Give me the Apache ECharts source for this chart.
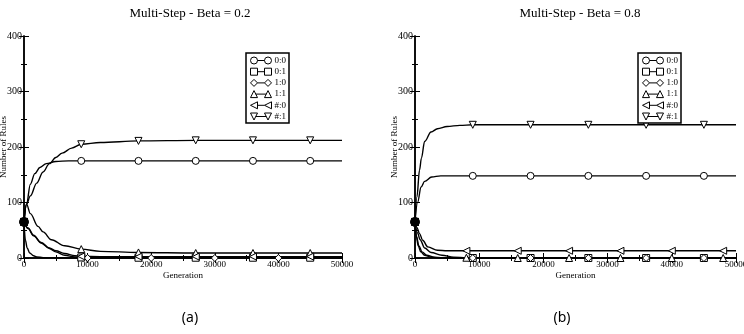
<!DOCTYPE html>
<html><head><meta charset="utf-8">
<script src="https://cdn.jsdelivr.net/npm/echarts@6/dist/echarts.min.js"></script>
<style>html,body{margin:0;padding:0;background:#fff}#c{width:744px;height:334px}</style>
</head><body><div id="c"></div>
<script>
// ---------- data ----------
const seriesNames = ['0:0', '0:1', '1:0', '1:1', '#:0', '#:1'];
const xTicks = [0, 10000, 20000, 30000, 40000, 50000];
const yTicks = [0, 100, 200, 300, 400];

// Beta = 0.2  ([generation, number of rules])
const a_00 = [[0,65],[400,97],[1000,133],[1700,152],[2500,163],[3500,170],[5000,174],[7000,175],[9000,175],[18000,175],[27000,175],[36000,175],[45000,175],[50000,175]];
const a_01 = [[0,65],[650,53],[1500,40],[2700,27],[4000,17],[5000,11],[6400,5],[8000,2],[9000,1],[12000,0.5],[18000,0.5],[27000,0.5],[36000,0.5],[45000,0.5],[50000,0.5]];
const a_10 = [[0,65],[220,32],[500,18],[900,9],[1500,4],[2000,2],[3000,0.5],[5000,0],[10000,0],[20000,0],[30000,0],[40000,0],[50000,0]];
const a_11 = [[0,65],[400,97],[1000,80],[2200,57],[3000,47],[4300,33],[6400,22],[9000,16],[12000,12],[18000,10],[27000,9],[36000,9],[45000,9],[50000,9]];
const a_h0 = [[0,65],[650,54],[1500,41],[2700,28],[4000,18],[5000,13],[6400,8],[8000,4],[9000,3],[12000,2.5],[18000,2.5],[27000,2.5],[36000,2.5],[45000,2.5],[50000,2.5]];
const a_h1 = [[0,65],[400,97],[1000,112],[2000,135],[3000,155],[4000,170],[5000,181],[6000,189],[7500,198],[9000,205],[12000,208],[18000,211],[27000,212],[36000,212],[45000,212],[50000,212]];

// Beta = 0.8
const b_00 = [[0,65],[400,100],[950,128],[1500,138],[2600,146],[4000,148],[9000,148],[18000,148],[27000,148],[36000,148],[45000,148],[50000,148]];
const b_01 = [[0,65],[200,40],[500,22],[900,11],[1500,5],[2500,1.5],[4000,0],[9000,0],[18000,0],[27000,0],[36000,0],[45000,0],[50000,0]];
const b_10 = [[0,65],[250,38],[600,22],[1100,11],[1800,5],[3000,1.5],[5000,0],[9000,0],[18000,0],[27000,0],[36000,0],[45000,0],[50000,0]];
const b_11 = [[0,65],[400,45],[800,33],[1500,18],[2500,10],[4200,5],[6000,1.5],[8000,0.5],[16000,0],[24000,0],[32000,0],[40000,0],[48000,0],[50000,0]];
const b_h0 = [[0,65],[300,55],[700,44],[1200,32],[2000,20],[3500,14],[5000,13],[8000,13],[16000,13],[24000,13],[32000,13],[40000,13],[48000,13],[50000,13]];
const b_h1 = [[0,65],[300,110],[700,158],[1000,180],[1500,210],[2500,227],[3500,233],[5000,237],[7000,239],[9000,240],[18000,240],[27000,240],[36000,240],[45000,240],[50000,240]];

// generations where a symbol is drawn
const marks9 = [0, 9000, 18000, 27000, 36000, 45000];
const marks10 = [0, 10000, 20000, 30000, 40000];
const marks8 = [0, 8000, 16000, 24000, 32000, 40000, 48000];

// ---------- styling ----------
const SERIF = 'Liberation Serif';
const symbols = {
  '0:0': 'circle', '0:1': 'rect', '1:0': 'diamond', '1:1': 'triangle',
  '#:0': 'path://M0,5 L10,0 L10,10 Z', '#:1': 'path://M0,0 L10,0 L5,10 Z'
};
const legendIcons = {
  '0:0': 'path://M0,3.5 A3.5,3.5 0 1 1 7,3.5 A3.5,3.5 0 1 1 0,3.5 Z M7,3.5 L14,3.5 M14,3.5 A3.5,3.5 0 1 1 21,3.5 A3.5,3.5 0 1 1 14,3.5 Z',
  '0:1': 'path://M0,0 L7,0 L7,7 L0,7 Z M7,3.5 L14,3.5 M14,0 L21,0 L21,7 L14,7 Z',
  '1:0': 'path://M0,3.5 L3.5,0 L7,3.5 L3.5,7 Z M7,3.5 L14,3.5 M14,3.5 L17.5,0 L21,3.5 L17.5,7 Z',
  '1:1': 'path://M0,7 L3.5,0 L7,7 Z M5.25,3.5 L15.75,3.5 M14,7 L17.5,0 L21,7 Z',
  '#:0': 'path://M0,3.5 L7,0 L7,7 Z M7,3.5 L14,3.5 M14,3.5 L21,0 L21,7 Z',
  '#:1': 'path://M0,0 L7,0 L3.5,7 Z M5.25,3.5 L15.75,3.5 M14,0 L21,0 L17.5,7 Z'
};

function mkSeries(name, pts, marks, gi) {
  const startStyle = name === '0:0'
    ? { itemStyle: { color: '#000' }, symbolSize: 9 }
    : { itemStyle: { color: 'rgba(0,0,0,0)' } };
  return {
    name: name, type: 'line', xAxisIndex: gi * 2, yAxisIndex: gi * 2,
    smooth: 0.35, smoothMonotone: 'x',
    symbol: symbols[name], symbolSize: 7,
    lineStyle: { color: '#000', width: 1.4 },
    itemStyle: { color: '#fff', borderColor: '#000', borderWidth: 1 },
    emphasis: { disabled: true },
    data: pts.map(p => marks.indexOf(p[0]) >= 0
      ? (p[0] === 0 ? Object.assign({ value: p }, startStyle) : { value: p })
      : { value: p, symbol: 'none' }),
    z: name === '0:0' ? 2 : 3
  };
}

const series = [
  mkSeries('0:0', a_00, marks9, 0), mkSeries('0:1', a_01, marks9, 0), mkSeries('1:0', a_10, marks10, 0),
  mkSeries('1:1', a_11, marks9, 0), mkSeries('#:0', a_h0, marks9, 0), mkSeries('#:1', a_h1, marks9, 0),
  mkSeries('0:0', b_00, marks9, 1), mkSeries('0:1', b_01, marks9, 1), mkSeries('1:0', b_10, marks9, 1),
  mkSeries('1:1', b_11, marks8, 1), mkSeries('#:0', b_h0, marks8, 1), mkSeries('#:1', b_h1, marks9, 1)
];

const grids = [
  { left: 24, top: 36, width: 318, height: 222, containLabel: false, outerBoundsMode: 'none' },
  { left: 415, top: 36, width: 321, height: 222, containLabel: false, outerBoundsMode: 'none' }
];

const plain = v => String(v);

function xAxes(gi) {
  const base = { type: 'value', gridIndex: gi, min: xTicks[0], max: xTicks[xTicks.length - 1],
    interval: xTicks[1] - xTicks[0], splitLine: { show: false },
    axisLine: { lineStyle: { color: '#000', width: 1.5 } },
    axisTick: { inside: true, length: 5, lineStyle: { color: '#000', width: 1 } },
    minorTick: { show: true, splitNumber: 2, length: 3, lineStyle: { color: '#000', width: 1 } } };
  return [
    Object.assign({}, base, { position: 'bottom', name: 'Generation', nameLocation: 'middle', nameGap: 13,
      nameMoveOverlap: false,
      nameTextStyle: { fontFamily: SERIF, fontSize: 9, color: '#000' },
      axisLabel: { fontFamily: SERIF, fontSize: 9, color: '#000', margin: 2, formatter: plain } }),
    Object.assign({}, base, { position: 'top', axisLabel: { show: false } })
  ];
}
function yAxes(gi) {
  const base = { type: 'value', gridIndex: gi, min: yTicks[0], max: yTicks[yTicks.length - 1],
    interval: yTicks[1] - yTicks[0], splitLine: { show: false },
    axisLine: { lineStyle: { color: '#000', width: 1.5 } },
    axisTick: { inside: true, length: 5, lineStyle: { color: '#000', width: 1 } },
    minorTick: { show: true, splitNumber: 2, length: 3, lineStyle: { color: '#000', width: 1 } } };
  return [
    Object.assign({}, base, { position: 'left', name: 'Number of Rules', nameLocation: 'middle', nameGap: 16,
      nameMoveOverlap: false,
      nameTextStyle: { fontFamily: SERIF, fontSize: 9, color: '#000' },
      axisLabel: { fontFamily: SERIF, fontSize: 10, color: '#000', margin: 2, formatter: plain } }),
    Object.assign({}, base, { position: 'right', axisLabel: { show: false } })
  ];
}

function mkLegend(left) {
  return {
    left: left, top: 53, orient: 'vertical',
    backgroundColor: '#fff', borderColor: '#000', borderWidth: 1.5,
    padding: [3, 3, 2, 4], itemGap: 2.2, itemWidth: 21, itemHeight: 7,
    selectedMode: false,
    itemStyle: { color: '#fff', borderColor: '#000', borderWidth: 1 },
    textStyle: { fontFamily: SERIF, fontSize: 9, color: '#000', padding: [0, 0, 0, -2] },
    data: seriesNames.map(n => ({ name: n, icon: legendIcons[n] }))
  };
}

const titleStyle = { fontFamily: SERIF, fontSize: 13, fontWeight: 'normal', color: '#000' };
const capStyle = { fontFamily: 'Noto Sans', fontSize: 14, fontWeight: 'normal', color: '#000' };

const chart = echarts.init(document.getElementById('c'), null, { renderer: 'canvas' });
chart.setOption({
  animation: false,
  backgroundColor: '#fff',
  title: [
    { text: 'Multi-Step - Beta = 0.2', left: 185, top: 2, textAlign: 'center', textStyle: titleStyle },
    { text: 'Multi-Step - Beta = 0.8', left: 575, top: 2, textAlign: 'center', textStyle: titleStyle },
    { text: '(a)', left: 185, top: 306, textAlign: 'center', textStyle: capStyle },
    { text: '(b)', left: 557, top: 306, textAlign: 'center', textStyle: capStyle }
  ],
  grid: grids,
  xAxis: xAxes(0).concat(xAxes(1)),
  yAxis: yAxes(0).concat(yAxes(1)),
  legend: [mkLegend(246), mkLegend(638)],
  series: series
});
</script></body></html>
